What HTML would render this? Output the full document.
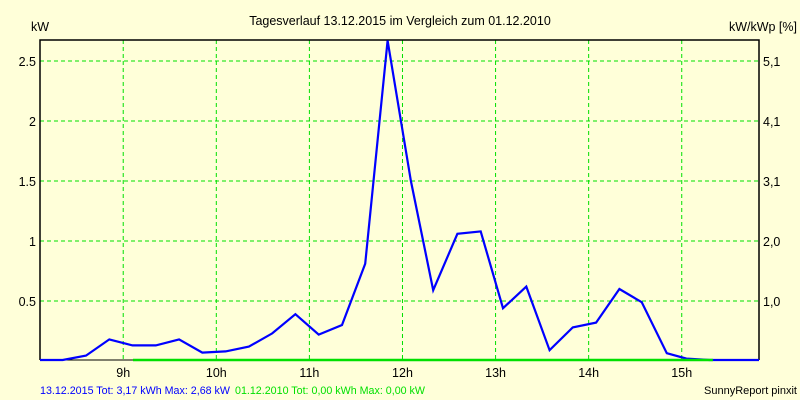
<!DOCTYPE html>
<html><head><meta charset="utf-8">
<style>
html,body{margin:0;padding:0;background:#ffffd9;}
svg{display:block;font-family:"Liberation Sans",Arial,sans-serif;}
</style></head>
<body>
<svg id="chart" width="800" height="400" viewBox="0 0 800 400" xmlns="http://www.w3.org/2000/svg">
<rect x="0" y="0" width="800" height="400" fill="#ffffd9"/>
<text x="400" y="25" font-size="12.5" text-anchor="middle" fill="#000">Tagesverlauf 13.12.2015 im Vergleich zum 01.12.2010</text>
<text x="31" y="31" font-size="12.5" fill="#000">kW</text>
<text x="797" y="31" font-size="12.5" text-anchor="end" fill="#000">kW/kWp [%]</text>
<g id="grid"></g>
<g id="axes"></g>
<g id="series"></g>
<g id="labels"></g>
<text x="40" y="394" font-size="11" fill="#0000ff" textLength="190" lengthAdjust="spacingAndGlyphs">13.12.2015 Tot: 3,17 kWh Max: 2,68 kW</text>
<text x="235" y="394" font-size="11" fill="#00e000" textLength="190" lengthAdjust="spacingAndGlyphs">01.12.2010 Tot: 0,00 kWh Max: 0,00 kW</text>
<text x="797" y="394" font-size="11" text-anchor="end" fill="#000">SunnyReport pinxit</text>
</svg>
<script>
const hourTicks = [9, 10, 11, 12, 13, 14, 15];
const leftTicks = [0.5, 1, 1.5, 2, 2.5];
const leftTickLabels = ["0.5", "1", "1.5", "2", "2.5"];
const rightTickLabels = ["1,0", "2,0", "3,1", "4,1", "5,1"];
const times = [8.106, 8.35, 8.6, 8.85, 9.1, 9.35, 9.6, 9.85, 10.1, 10.35, 10.6, 10.85, 11.1, 11.35, 11.6, 11.84, 12.09, 12.33, 12.59, 12.84, 13.08, 13.33, 13.58, 13.83, 14.08, 14.33, 14.57, 14.84, 15.05, 15.3, 15.83];
const powerToday = [0, 0, 0.045, 0.18, 0.13, 0.13, 0.18, 0.07, 0.08, 0.12, 0.23, 0.39, 0.22, 0.30, 0.81, 2.67, 1.5, 0.59, 1.06, 1.08, 0.44, 0.62, 0.09, 0.28, 0.32, 0.60, 0.49, 0.065, 0.02, 0, 0];
const compareTimes = [9.105, 15.335];
const powerCompare = [0, 0];

const L=40,R=759,T=40,B=360;
const tMin=8.106,tMax=15.83;
function x(t){return L+(t-tMin)/(tMax-tMin)*(R-L);}
function y(v){return 361-120*v;}
const NS="http://www.w3.org/2000/svg";
function mk(tag,attrs,parent){const e=document.createElementNS(NS,tag);for(const k in attrs)e.setAttribute(k,attrs[k]);parent.appendChild(e);return e;}
const grid=document.getElementById('grid'),axes=document.getElementById('axes'),series=document.getElementById('series'),labels=document.getElementById('labels');

hourTicks.forEach(h=>{
  const gl=mk('line',{x1:x(h),x2:x(h),y1:T,y2:B,stroke:'#00e000','stroke-dasharray':'4,3','stroke-width':1},grid);
  
  
  const tl=mk('text',{x:x(h),y:377,'font-size':12.5,'text-anchor':'middle',fill:'#000'},labels);
  tl.textContent=h+'h';
  
  
});
leftTicks.forEach((v,i)=>{
  const gl=mk('line',{x1:L,x2:R,y1:y(v),y2:y(v),stroke:'#00e000','stroke-dasharray':'4,3','stroke-width':1},grid);
  
  
  const tl=mk('text',{x:36,y:y(v)+5,'font-size':12.5,'text-anchor':'end',fill:'#000'},labels);
  tl.textContent=leftTickLabels[i];
  
  
  const tr=mk('text',{x:763,y:y(v)+5,'font-size':12.5,fill:'#000'},labels);
  tr.textContent=rightTickLabels[i];
  
  
});
const ax=mk('path',{d:`M${L},${B} L${L},${T} L${R},${T} L${R},${B}`,fill:'none',stroke:'#000','stroke-width':1.5},axes);


const bx=mk('line',{x1:L,x2:R,y1:B,y2:B,stroke:'#000','stroke-width':1},axes);



const pts=times.map((t,i)=>x(t).toFixed(1)+','+Math.min(B,y(powerToday[i])).toFixed(1)).join(' ');
const line=mk('polyline',{points:pts,fill:'none',stroke:'#0000ff','stroke-width':2.2,'stroke-linejoin':'miter'},series);


const cpts=compareTimes.map((t,i)=>x(t).toFixed(1)+','+Math.min(B,y(powerCompare[i])).toFixed(1)).join(' ');
const cl=mk('polyline',{points:cpts,fill:'none',stroke:'#00e000','stroke-width':2.5},series);


</script>
</body></html>
